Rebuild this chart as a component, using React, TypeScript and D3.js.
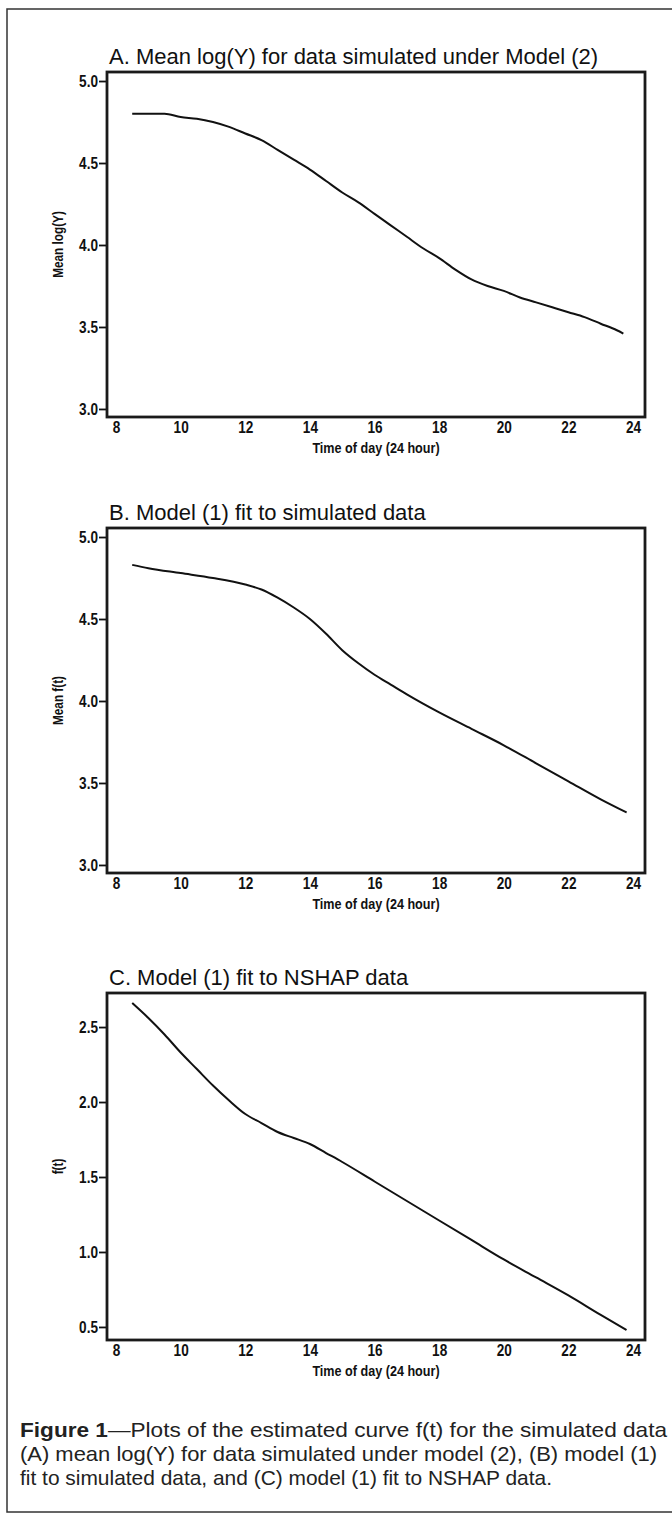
import { useRef, useEffect } from "react";
import * as d3 from "d3";

// panel titles and axis labels
const panelTitles = [
  "A. Mean log(Y) for data simulated under Model (2)",
  "B. Model (1) fit to simulated data",
  "C. Model (1) fit to NSHAP data",
];
const yTitles = ["Mean log(Y)", "Mean f(t)", "f(t)"];
const xTitle = "Time of day (24 hour)";

// tick values
const xTicks = [8, 10, 12, 14, 16, 18, 20, 22, 24];
const yTicksAB = [3.0, 3.5, 4.0, 4.5, 5.0];
const yTicksC = [0.5, 1.0, 1.5, 2.0, 2.5];

// curves
const hoursA = [8.5, 9, 9.5, 10, 10.5, 11, 11.5, 12, 12.5, 13, 13.5, 14, 14.5, 15, 15.5, 16, 16.5, 17, 17.5, 18, 18.5, 19, 19.5, 20, 20.5, 21, 21.5, 22, 22.5, 23, 23.5, 23.7];
const meanLogY = [4.8, 4.8, 4.8, 4.78, 4.77, 4.75, 4.72, 4.68, 4.64, 4.58, 4.52, 4.46, 4.39, 4.32, 4.26, 4.19, 4.12, 4.05, 3.98, 3.92, 3.85, 3.79, 3.75, 3.72, 3.68, 3.65, 3.62, 3.59, 3.56, 3.52, 3.48, 3.46];

const hoursB = [8.5, 9, 10, 11, 12, 12.5, 13, 13.5, 14, 14.5, 15, 15.5, 16, 16.5, 17, 18, 19, 20, 21, 22, 23, 23.8];
const meanFtSim = [4.83, 4.81, 4.78, 4.75, 4.71, 4.68, 4.63, 4.57, 4.5, 4.41, 4.31, 4.23, 4.16, 4.1, 4.04, 3.93, 3.83, 3.73, 3.62, 3.51, 3.4, 3.32];

const hoursC = [8.5, 9, 9.5, 10, 10.5, 11, 11.5, 12, 12.5, 13, 13.5, 14, 14.5, 15, 16, 17, 18, 19, 20, 21, 22, 23, 23.8];
const ftNshap = [2.66, 2.56, 2.45, 2.33, 2.22, 2.11, 2.01, 1.92, 1.86, 1.8, 1.76, 1.72, 1.66, 1.6, 1.47, 1.34, 1.21, 1.08, 0.95, 0.83, 0.71, 0.58, 0.48];

const captionLines = [
  "—Plots of the estimated curve f(t) for the simulated data",
  "(A) mean log(Y) for data simulated under model (2), (B) model (1)",
  "fit to simulated data, and (C) model (1) fit to NSHAP data.",
];

// squeeze text horizontally, like the narrow bold face of the original
function condense(sel, k) {
  sel.each(function () {
    const len = this.getComputedTextLength();
    d3.select(this).attr("textLength", len * k).attr("lengthAdjust", "spacingAndGlyphs");
  });
}

export default function App() {
  const svgRef = useRef(null);

  useEffect(() => {
    const W = 672;
    const H = 1515;
    const svg = d3.select(svgRef.current).attr("width", W).attr("height", H);
    svg.selectAll("*").remove();

    const sans = "'Liberation Sans', Arial, sans-serif";

    // outer frame
    svg
      .append("rect")
      .attr("x", 7)
      .attr("y", 9)
      .attr("width", 700)
      .attr("height", 1503)
      .attr("fill", "none")
      .attr("stroke", "#333")
      .attr("stroke-width", 1.5);

    const panels = [
      { top: 72, bottom: 417, dom: [2.951, 5.055], ticks: yTicksAB, xs: hoursA, ys: meanLogY },
      { top: 528, bottom: 873, dom: [2.951, 5.055], ticks: yTicksAB, xs: hoursB, ys: meanFtSim },
      { top: 993, bottom: 1340, dom: [0.413, 2.727], ticks: yTicksC, xs: hoursC, ys: ftNshap },
    ];
    const left = 107;
    const right = 645;

    const xScale = d3.scaleLinear().domain([7.72, 24.37]).range([left, right]);

    panels.forEach((p, i) => {
      const g = svg.append("g");
      const yScale = d3.scaleLinear().domain(p.dom).range([p.bottom, p.top]);

      // title
      g.append("text")
        .attr("x", 109)
        .attr("y", p.top - 8)
        .attr("font-family", sans)
        .attr("font-size", 22)
        .attr("fill", "#111")
        .text(panelTitles[i]);

      // y axis
      const yAxis = d3
        .axisLeft(yScale)
        .tickValues(p.ticks)
        .tickSize(8)
        .tickPadding(1)
        .tickFormat(d3.format(".1f"));
      const ya = g.append("g").attr("transform", `translate(${left},0)`).call(yAxis);
      ya.select(".domain").remove();
      ya.selectAll("line").attr("stroke", "#111").attr("stroke-width", 1.8);
      ya.selectAll("text")
        .attr("font-family", sans)
        .attr("font-weight", "bold")
        .attr("font-size", 17)
        .attr("fill", "#111")
        .call(condense, 0.8);

      // x axis
      const xAxis = d3.axisBottom(xScale).tickValues(xTicks).tickSize(0).tickPadding(4);
      const xa = g.append("g").attr("transform", `translate(0,${p.bottom})`).call(xAxis);
      xa.select(".domain").remove();
      xa.selectAll("text")
        .attr("font-family", sans)
        .attr("font-weight", "bold")
        .attr("font-size", 17)
        .attr("fill", "#111")
        .call(condense, 0.8);

      // axis titles
      g.append("text")
        .attr("x", (left + right) / 2)
        .attr("y", p.bottom + 36)
        .attr("text-anchor", "middle")
        .attr("font-family", sans)
        .attr("font-weight", "bold")
        .attr("font-size", 15)
        .attr("fill", "#111")
        .text(xTitle)
        .call(condense, 0.84);
      g.append("text")
        .attr("transform", `translate(63,${(p.top + p.bottom) / 2}) rotate(-90)`)
        .attr("text-anchor", "middle")
        .attr("font-family", sans)
        .attr("font-weight", "bold")
        .attr("font-size", 14)
        .attr("fill", "#111")
        .text(yTitles[i])
        .call(condense, 0.84);

      // curve
      const line = d3
        .line()
        .x((d) => xScale(d[0]))
        .y((d) => yScale(d[1]))
        .curve(d3.curveMonotoneX);
      g.append("path")
        .datum(p.xs.map((x, j) => [x, p.ys[j]]))
        .attr("d", line)
        .attr("fill", "none")
        .attr("stroke", "#111")
        .attr("stroke-width", 2);

      // plot frame
      g.append("rect")
        .attr("x", left)
        .attr("y", p.top)
        .attr("width", right - left)
        .attr("height", p.bottom - p.top)
        .attr("fill", "none")
        .attr("stroke", "#1a1a1a")
        .attr("stroke-width", 2.8);
    });

    // caption
    const cap = svg
      .append("g")
      .attr("font-family", sans)
      .attr("font-size", 21)
      .attr("fill", "#222");
    const first = cap
      .append("text")
      .attr("x", 20)
      .attr("y", 1437)
      .attr("textLength", 647)
      .attr("lengthAdjust", "spacingAndGlyphs");
    first.append("tspan").attr("font-weight", "bold").text("Figure 1");
    first.append("tspan").text(captionLines[0]);
    cap
      .append("text")
      .attr("x", 20)
      .attr("y", 1461)
      .attr("textLength", 637)
      .attr("lengthAdjust", "spacingAndGlyphs")
      .text(captionLines[1]);
    cap
      .append("text")
      .attr("x", 20)
      .attr("y", 1485)
      .attr("textLength", 532)
      .attr("lengthAdjust", "spacingAndGlyphs")
      .text(captionLines[2]);
  }, []);

  return (
    <div style={{ position: "absolute", left: 0, top: 0 }}>
      <svg ref={svgRef} style={{ display: "block" }}></svg>
    </div>
  );
}
